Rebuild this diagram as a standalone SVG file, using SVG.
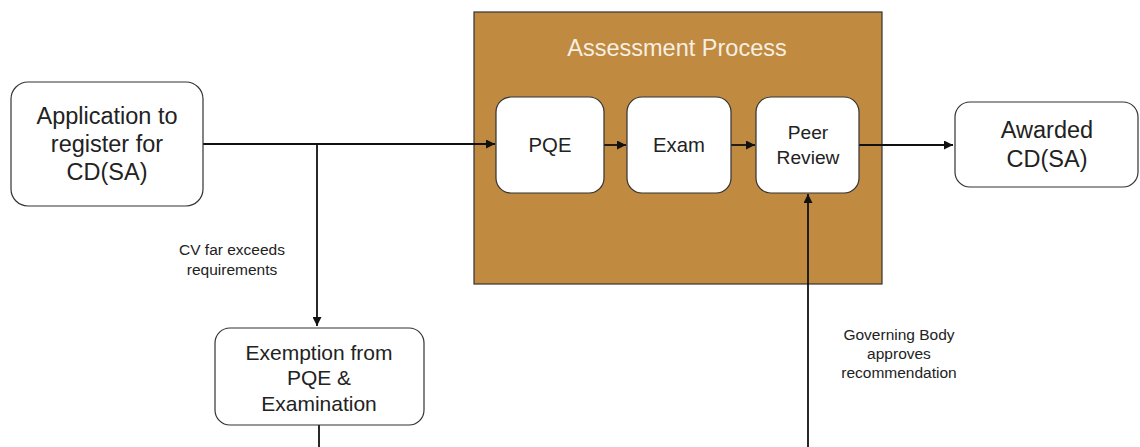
<svg xmlns="http://www.w3.org/2000/svg" width="1140" height="447" viewBox="0 0 1140 447">
<style>
text{font-family:"Liberation Sans",Arial,sans-serif;fill:#222;text-anchor:middle}
.box{fill:#fff;stroke:#333;stroke-width:1.2}
.ln{stroke:#111;stroke-width:1.8;fill:none}
.lbl{font-size:15.5px}
</style>
<defs>
<marker id="ah" viewBox="0 0 10 10" refX="10" refY="5" markerWidth="5" markerHeight="5" orient="auto-start-reverse"><path d="M0,0L10,5L0,10z" fill="#111"/></marker>
</defs>
<rect width="1140" height="447" fill="#fff"/>
<g id="assessment">
<rect x="474" y="12" width="408" height="272" fill="#C08A40" stroke="#333" stroke-width="1.2"/>
<text x="677" y="56" style="font-size:23.5px;fill:#f6efe2">Assessment Process</text>
</g>
<g id="connectors">
<path class="ln" d="M203,144H495" marker-end="url(#ah)"/>
<path class="ln" d="M317,144V326" marker-end="url(#ah)"/>
<path class="ln" d="M319,425V447"/>
<path class="ln" d="M604,145H626" marker-end="url(#ah)"/>
<path class="ln" d="M731,145H755" marker-end="url(#ah)"/>
<path class="ln" d="M859,145H953" marker-end="url(#ah)"/>
<path class="ln" d="M808,447V194" marker-end="url(#ah)"/>
<text class="lbl" x="232" y="255">CV far exceeds</text>
<text class="lbl" x="232" y="275">requirements</text>
<text class="lbl" x="899" y="340">Governing Body</text>
<text class="lbl" x="899" y="359">approves</text>
<text class="lbl" x="899" y="378">recommendation</text>
</g>
<g id="application">
<rect class="box" x="11" y="82" width="192" height="124" rx="17"/>
<text x="107" y="124" style="font-size:23.5px">Application to</text>
<text x="107" y="152" style="font-size:23.5px">register for</text>
<text x="107" y="180" style="font-size:23.5px">CD(SA)</text>
</g>
<g id="pqe">
<rect class="box" x="496" y="97" width="108" height="96" rx="15"/>
<text x="550" y="152" style="font-size:20.3px">PQE</text>
</g>
<g id="exam">
<rect class="box" x="627" y="97" width="104" height="96" rx="15"/>
<text x="679" y="152" style="font-size:20.3px">Exam</text>
</g>
<g id="peer">
<rect class="box" x="756" y="97" width="103" height="96" rx="15"/>
<text x="808" y="139" style="font-size:19.2px">Peer</text>
<text x="808" y="164" style="font-size:19.2px">Review</text>
</g>
<g id="awarded">
<rect class="box" x="955" y="102" width="183" height="85" rx="15"/>
<text x="1047" y="138" style="font-size:23.5px">Awarded</text>
<text x="1047" y="167" style="font-size:23.5px">CD(SA)</text>
</g>
<g id="exemption">
<rect class="box" x="215" y="328" width="209" height="97" rx="15"/>
<text x="319" y="360" style="font-size:21px">Exemption from</text>
<text x="319" y="385" style="font-size:21px">PQE &amp;</text>
<text x="319" y="411" style="font-size:21px">Examination</text>
</g>
</svg>
